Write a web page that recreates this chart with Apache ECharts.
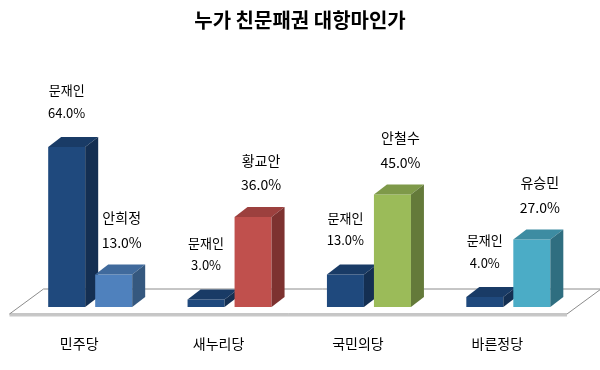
<!DOCTYPE html>
<html>
<head>
<meta charset="utf-8">
<script src="https://cdn.jsdelivr.net/npm/echarts@6/dist/echarts.min.js"></script>
<style>html,body{margin:0;padding:0;background:#fff}#c{width:600px;height:370px}</style>
</head>
<body>
<div id="c"></div>
<script>
const titleText = '누가 친문패권 대항마인가';
const categories = ['민주당', '새누리당', '국민의당', '바른정당'];
const candidatesA = ['문재인', '문재인', '문재인', '문재인'];
const valuesA = [64.0, 3.0, 13.0, 4.0];
const candidatesB = ['안희정', '황교안', '안철수', '유승민'];
const valuesB = [13.0, 36.0, 45.0, 27.0];

const FONT = '"Noto Sans CJK KR", "Noto Sans", sans-serif';
const colorsA = [['#1F497D', '#193B66', '#142F52']];
const colorsB = [
  ['#4F81BD', '#406A9C', '#35587F'],
  ['#C0504D', '#9C403E', '#7D3230'],
  ['#9BBB59', '#7E9949', '#647A3A'],
  ['#4BACC6', '#3D8CA2', '#2F6E80']
];

const BAR_W = 37, GAP = 10, DX = 13, DY = 10;

function makeBarRender(sIdx, names, palette) {
  return function (params, api) {
    const ci = api.value(0);
    const v = api.value(1);
    const base = api.coord([ci, 0]);
    const top = api.coord([ci, v]);
    const x0 = base[0] - 31 + sIdx * (BAR_W + GAP);
    const x1 = x0 + BAR_W;
    const yb = base[1], yt = top[1];
    const c = palette[params.dataIndex % palette.length];
    const lx = (x0 + x1) / 2 + (sIdx ? 8 : 0);
    const vy = yt - (sIdx ? 32 : 34);
    const ny = vy - (sIdx ? 24.5 : 22.5);
    const fs = sIdx ? 14 : 13;
    return {
      type: 'group',
      children: [
        { type: 'polygon', shape: { points: [[x0, yt], [x1, yt], [x1, yb], [x0, yb]] }, style: { fill: c[0] } },
        { type: 'polygon', shape: { points: [[x0, yt], [x0 + DX, yt - DY], [x1 + DX, yt - DY], [x1, yt]] }, style: { fill: c[1] } },
        { type: 'polygon', shape: { points: [[x1, yt], [x1 + DX, yt - DY], [x1 + DX, yb - DY], [x1, yb]] }, style: { fill: c[2] } },
        { type: 'text', style: { text: names[params.dataIndex], x: lx, y: ny, align: 'center', verticalAlign: 'middle', font: fs + 'px ' + FONT, fill: '#000' } },
        { type: 'text', style: { text: v.toFixed(1) + '%', x: lx, y: vy, align: 'center', verticalAlign: 'middle', font: fs + 'px ' + FONT, fill: '#000' } }
      ]
    };
  };
}

function floorRender(params, api) {
  const cs = params.coordSys;
  const y0 = api.coord([0, 0])[1];
  const yf = y0 + 7, yk = y0 - 18, sh = 34;
  const xl = cs.x, xr = cs.x + cs.width;
  return {
    type: 'group',
    children: [
      { type: 'polygon', shape: { points: [[xl, yf], [xr, yf], [xr + sh, yk], [xl + sh, yk]] }, style: { fill: '#fff', stroke: '#8c8c8c', lineWidth: 1 } },
      { type: 'line', shape: { x1: xl, y1: yf + 1.5, x2: xr, y2: yf + 1.5 }, style: { stroke: '#c8c8c8', lineWidth: 2 } }
    ]
  };
}

const chart = echarts.init(document.getElementById('c'), null, { renderer: 'canvas' });
chart.setOption({
  animation: false,
  backgroundColor: '#fff',
  title: {
    text: titleText,
    left: 'center',
    top: 10,
    padding: [0, 0, 0, 10],
    textStyle: { fontFamily: FONT, fontSize: 20, fontWeight: 'bold', color: '#000' }
  },
  grid: { left: 9.5, right: 33, top: 57, bottom: 63 },
  xAxis: {
    type: 'category',
    data: categories,
    axisLine: { show: false },
    axisTick: { show: false },
    splitLine: { show: false },
    axisLabel: { margin: 30, fontSize: 14, fontFamily: FONT, color: '#000' }
  },
  yAxis: { type: 'value', min: 0, max: 100, show: false, splitLine: { show: false } },
  series: [
    { type: 'custom', clip: false, z: 1, renderItem: floorRender, data: [[0, 0]], silent: true },
    { type: 'custom', clip: false, z: 2, renderItem: makeBarRender(0, candidatesA, colorsA), data: valuesA.map((v, i) => [i, v]) },
    { type: 'custom', clip: false, z: 3, renderItem: makeBarRender(1, candidatesB, colorsB), data: valuesB.map((v, i) => [i, v]) }
  ]
});
</script>
</body>
</html>
